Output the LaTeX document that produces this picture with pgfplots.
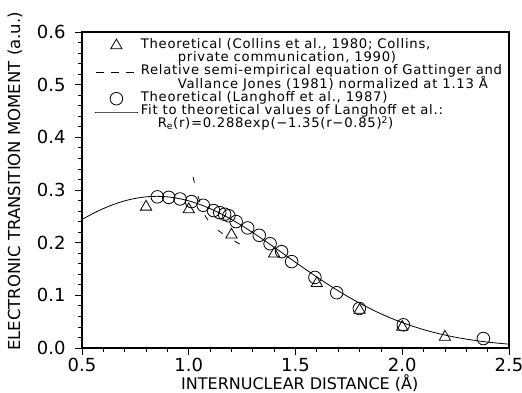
\documentclass[border=0pt]{standalone}
\usepackage{pgfplots}
\pgfplotsset{compat=1.18}
\usepackage{fontspec}
\setmainfont{DejaVu Sans}
\newfontfamily\legfont[LetterSpace=5.5]{DejaVu Sans}
\begin{document}
\begin{tikzpicture}
\begin{axis}[
  scale only axis, width=427pt, height=316pt,
  xmin=0.5, xmax=2.5, ymin=0, ymax=0.6,
  xtick={0.5,1.0,1.5,2.0,2.5}, ytick={0,0.1,0.2,0.3,0.4,0.5,0.6},
  minor x tick num=4, minor y tick num=4,
  tick align=outside, xtick pos=bottom, ytick pos=left,
  major tick length=7pt, minor tick length=4pt,
  axis line style={line width=1.2pt},
  every tick/.style={black, line width=0.8pt},
  /pgf/number format/assume math mode=true,
  tick label style={font=\fontsize{18}{18}\selectfont},
  x tick label style={/pgf/number format/.cd, fixed, fixed zerofill, precision=1, /tikz/.cd},
  y tick label style={/pgf/number format/.cd, fixed, fixed zerofill, precision=1, /tikz/.cd, xshift=-6pt},
  xlabel={INTERNUCLEAR DISTANCE (Å)},
  ylabel={ELECTRONIC TRANSITION MOMENT (a.u.)},
  every axis x label/.style={at={(rel axis cs:0.51,0)}, anchor=center, yshift=-35pt, font=\fontsize{16}{16}\selectfont},
  every axis y label/.style={at={(rel axis cs:-0.157,0.527)}, rotate=90, anchor=center, font=\fontsize{16.5}{16.5}\selectfont},
  legend style={at={(rel axis cs:0.03,0.979)}, anchor=north west, draw=none, fill=none,
    font=\legfont\fontsize{13.2}{13.3}\selectfont, row sep=0pt, column sep=3pt, inner sep=0pt,
    nodes={inner sep=0pt, text height=9.3pt, text depth=4pt}},
  legend cell align=left,
  legend image code/.code={\draw[mark repeat=2,mark phase=2,#1] plot coordinates {(0pt,0pt) (21pt,0pt) (42pt,0pt)};},
]
% Collins et al. (triangles)
\addplot[only marks, mark=triangle, mark size=6.5pt, line width=0.8pt, black] coordinates {
 (0.80,0.268) (1.00,0.263) (1.20,0.215) (1.40,0.179) (1.60,0.123) (1.80,0.072) (2.00,0.040) (2.20,0.021)
};
\addlegendentry{Theoretical (Collins et al., 1980; Collins,}
\addlegendimage{empty legend}
\addlegendentry{\hspace*{37pt}private communication, 1990)}
% Gattinger & Vallance Jones (dashed)
\addplot[black, line width=0.8pt, dash pattern=on 6pt off 14pt, smooth,
  legend image code/.code={\draw[black, line width=0.8pt, dash pattern=on 8pt off 7pt] (1pt,0pt) -- (41pt,0pt);}] coordinates {
 (1.02,0.325) (1.035,0.300) (1.05,0.280) (1.065,0.262) (1.08,0.249) (1.10,0.238) (1.13,0.226) (1.17,0.214) (1.21,0.204) (1.25,0.195)
};
\addlegendentry{Relative semi-empirical equation of Gattinger and}
\addlegendimage{empty legend}
\addlegendentry{\hspace*{37pt}Vallance Jones (1981) normalized at 1.13 Å}
% Langhoff et al. (circles)
\addplot[only marks, mark=o, mark size=6.3pt, line width=0.8pt, black] coordinates {
 (0.853,0.287) (0.906,0.286) (0.959,0.283) (1.013,0.278) (1.068,0.271) (1.116,0.261) (1.145,0.257)
 (1.168,0.254) (1.188,0.251) (1.222,0.240) (1.276,0.228) (1.330,0.214) (1.381,0.198) (1.435,0.183)
 (1.482,0.164) (1.591,0.134) (1.693,0.105) (1.799,0.075) (2.005,0.044) (2.380,0.018)
};
\addlegendentry{Theoretical (Langhoff et al., 1987)}
% Fit curve
\addplot[black, line width=0.8pt, smooth] coordinates {
 (0.50,0.2441) (0.55,0.2550) (0.60,0.2647) (0.65,0.2729) (0.70,0.2794) (0.75,0.2841) (0.80,0.2870)
 (0.85,0.2880) (0.90,0.2870) (0.95,0.2841) (1.00,0.2794) (1.05,0.2729) (1.10,0.2647) (1.15,0.2550)
 (1.20,0.2441) (1.25,0.2321) (1.30,0.2191) (1.35,0.2055) (1.40,0.1914) (1.45,0.1771) (1.50,0.1628)
 (1.55,0.1486) (1.60,0.1348) (1.65,0.1214) (1.70,0.1086) (1.75,0.0965) (1.80,0.0852) (1.85,0.0747)
 (1.90,0.0650) (1.95,0.0562) (2.00,0.0483) (2.05,0.0412) (2.10,0.0349) (2.15,0.0294) (2.20,0.0246)
 (2.25,0.0204) (2.30,0.0169) (2.35,0.0138) (2.40,0.0112) (2.45,0.0091) (2.50,0.0073)
};
\addlegendentry{Fit to theoretical values of Langhoff et al.:}
\addlegendimage{empty legend}
\addlegendentry{\hspace*{17pt}R\textsubscript{e}(r)=0.288exp(−1.35(r−0.85)\textsuperscript{2})}
\coordinate (sw) at (rel axis cs:0,0);
\end{axis}
\pgfresetboundingbox
\path (sw) ++(-82pt,-44pt) rectangle ++(522pt,392pt);
\end{tikzpicture}
\end{document}
